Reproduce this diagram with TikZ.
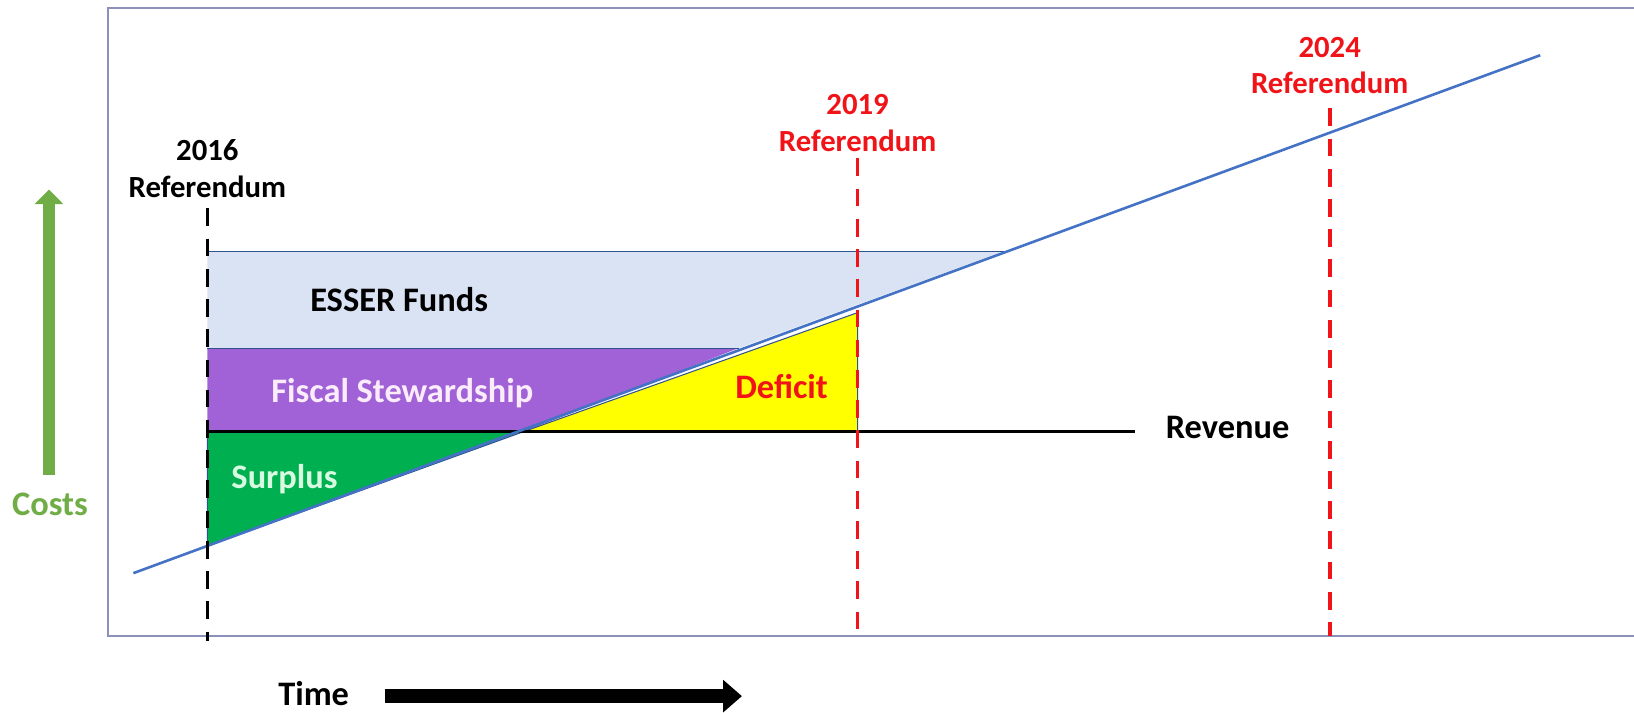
\documentclass[tikz,border=0pt]{standalone}
\usepackage{fontspec}
\setmainfont{Carlito}
\usepackage{tikz}
\usetikzlibrary{shapes,arrows,arrows.meta}
\usetikzlibrary{positioning}

\definecolor{esserfill}{RGB}{218,227,243}
\definecolor{fiscfill}{RGB}{160,98,214}
\definecolor{surfill}{RGB}{0,176,80}
\definecolor{deffill}{RGB}{255,255,0}
\definecolor{costline}{RGB}{68,114,196}
\definecolor{bandedge}{RGB}{47,82,143}
\definecolor{refred}{RGB}{240,20,25}
\definecolor{costgreen}{RGB}{112,173,71}
\definecolor{framecol}{RGB}{138,146,188}
\definecolor{surtext}{RGB}{215,250,225}
\definecolor{fisctext}{RGB}{250,236,250}

\tikzset{
  lbl/.style={font=\bfseries\fontsize{33}{40}\selectfont, inner sep=0pt, anchor=base},
  reflbl/.style={font=\bfseries\fontsize{29.5}{35}\selectfont, inner sep=0pt, align=center},
  refline/.style={line width=3.5pt, dash pattern=on 17pt off 12pt},
  bandline/.style={draw=bandedge, line width=1pt},
}

\begin{document}
\begin{tikzpicture}[x=1pt,y=-1pt]
\useasboundingbox (0,0) rectangle (1568,684);

% frame (open on the right)
\draw[framecol, line width=2pt] (1570,8) -- (104,8) -- (104,610) -- (1570,610);

% cost line and where it crosses things
\coordinate (c0) at (128,550);
\coordinate (c1) at (1478,53);
\coordinate (bx) at (963,241);
\coordinate (px) at (709,334);
\coordinate (rx) at (503,414);
\coordinate (s0) at (199,524);
\coordinate (d0) at (823,300);

% bands
\fill[esserfill] (199,241) -- (bx) -- (px) -- (199,334) -- cycle;
\draw[bandline] (199,241) -- (bx);
\fill[fiscfill] (199,334) -- (px) -- (rx) -- (199,414) -- cycle;
\draw[bandline] (199,334) -- (px);
\filldraw[fill=surfill, bandline] (199,414) -- (rx) -- (s0) -- cycle;
\filldraw[fill=deffill, bandline] (rx) -- (823,414) -- (d0) -- cycle;

% revenue
\coordinate (r0) at (199,414);
\coordinate (r1) at (1089,414);
\draw[line width=3pt] (r0) -- (r1);

% costs
\draw[costline, line width=2.5pt] (c0) -- (c1);

% referendum lines
\coordinate (a0) at (199,200);
\coordinate (a1) at (199,615);
\coordinate (b0) at (823,152);
\coordinate (b1) at (823,610);
\coordinate (e0) at (1276,104);
\coordinate (e1) at (1276,610);
\draw[refline, black] (a0) -- (a1);
\draw[refline, refred] (b0) -- (b1);
\draw[refline, refred] (e0) -- (e1);

\node[reflbl] (ref16) at (199,162) {2016\\Referendum};
\node[reflbl, text=refred] (ref19) at (823,118) {2019\\Referendum};
\node[reflbl, text=refred] (ref24) at (1276,63) {2024\\Referendum};

% band labels
\node[lbl] (esserlbl) at (383,299) {ESSER Funds};
\node[lbl, text=fisctext] (fisclbl) at (386,386) {Fiscal Stewardship};
\node[lbl, text=surtext] (surlbl) at (273,469) {Surplus};
\node[lbl, text=refred] (deflbl) at (750,382) {Deficit};
\node[lbl] (revlbl) at (1178,421) {Revenue};

% axes
\coordinate (g0) at (47,456);
\coordinate (g1) at (47,182);
\draw[costgreen, line width=11pt, -{Triangle[width=27pt,length=14pt]}] (g0) -- (g1);
\node[lbl, text=costgreen] (costlbl) at (48,495) {Costs};

\node[lbl] (timelbl) at (301,677) {Time};
\coordinate (t0) at (369,668);
\coordinate (t1) at (712,668);
\draw[line width=14pt, -{Triangle[width=30pt,length=18pt]}] (t0) -- (t1);
\end{tikzpicture}
\end{document}
